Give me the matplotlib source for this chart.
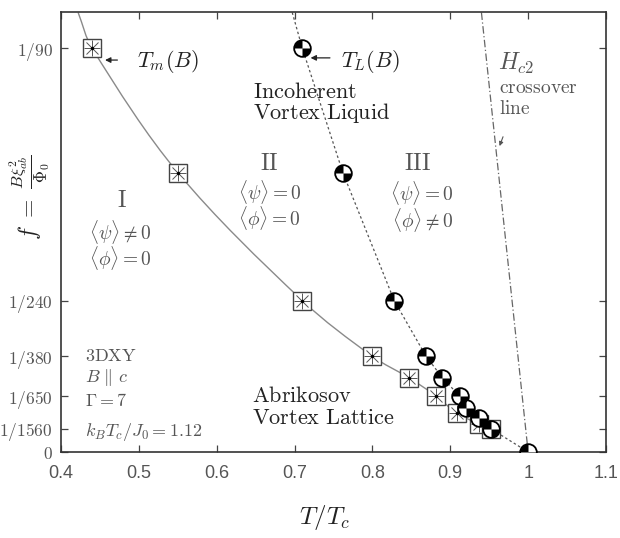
import numpy as np
import matplotlib
matplotlib.use('Agg')
import matplotlib.pyplot as plt
from matplotlib.path import Path
from matplotlib.patches import PathPatch

plt.rcParams['mathtext.fontset'] = 'cm'

# ---- data ----
# melting line T_m(B): square markers
T_m = [0.44, 0.55, 0.71, 0.80, 0.847, 0.882, 0.908, 0.937, 0.952]
f_m = [1/90, 1/130, 1/240, 1/380, 1/490, 1/650, 1/930, 1/1300, 1/1560]
# where the T_m guide curve meets the top frame
Tm_top_T = [0.422]
Tm_top_f = [0.0121]
# T_L(B): checkered circle markers
T_L = [0.71, 0.762, 0.828, 0.869, 0.89, 0.912, 0.92, 0.937, 0.952, 1.0]
f_L = [1/90, 1/130, 1/240, 1/380, 1/490, 1/650, 1/820, 1/1070, 1/1560, 0.0]
# T_L guide line starts at the top of the frame
TL_top_T = [0.697]
TL_top_f = [0.0121]
# H_c2 crossover line
Hc2_T = [0.94, 1.0]
Hc2_f = [0.0121, 0.0]

xticks = [0.4, 0.5, 0.6, 0.7, 0.8, 0.9, 1.0, 1.1]
xtick_labels = ['0.4', '0.5', '0.6', '0.7', '0.8', '0.9', '1', '1.1']
yticks = [0.0, 1/1560, 1/650, 1/380, 1/240, 1/90]
ytick_labels = ['0', '1/1560', '1/650', '1/380', '1/240', '1/90']

XLIM = (0.4, 1.1)
YLIM = (0, 0.012113)
fig = plt.figure(figsize=(6.2, 5.38), dpi=100)
ax = fig.add_axes([61/620, 86/538, 545/620, 440/538])
ax.set_xlim(*XLIM)
ax.set_ylim(*YLIM)


def smooth_path(xs, ys):
    """Chord-length Catmull-Rom curve through the points, as cubic Bezier segments."""
    sx = 545 / (XLIM[1] - XLIM[0])
    sy = 440 / (YLIM[1] - YLIM[0])
    P = np.column_stack([np.asarray(xs) * sx, np.asarray(ys) * sy])
    n = len(P)
    d = np.linalg.norm(np.diff(P, axis=0), axis=1)
    m = np.zeros_like(P)
    m[0] = (P[1] - P[0]) / d[0]
    m[-1] = (P[-1] - P[-2]) / d[-1]
    for i in range(1, n - 1):
        m[i] = (P[i + 1] - P[i - 1]) / (d[i - 1] + d[i])
    verts = [P[0]]
    codes = [Path.MOVETO]
    for i in range(n - 1):
        verts += [P[i] + m[i] * d[i] / 3, P[i + 1] - m[i + 1] * d[i] / 3, P[i + 1]]
        codes += [Path.CURVE4] * 3
    V = np.array(verts)
    V[:, 0] /= sx
    V[:, 1] /= sy
    return Path(V, codes)


# lines
ax.add_patch(PathPatch(smooth_path(Tm_top_T + T_m, Tm_top_f + f_m), fill=False,
                       edgecolor='#8a8a8a', lw=1.0, zorder=2))
ax.plot(TL_top_T + T_L, TL_top_f + f_L, color='#555555', lw=0.9, ls=(0, (2, 2)), zorder=2)
ax.plot(Hc2_T, Hc2_f, color='#666666', lw=0.9, ls=(0, (6, 2, 1, 2)), zorder=2)

# square markers with asterisk
ax.plot(T_m, f_m, ls='none', marker='s', ms=13, mfc='white', mec='#444444', mew=1.0, zorder=3)
ax.plot(T_m, f_m, ls='none', marker='x', ms=8, mec='#555555', mew=0.7, zorder=4)
ax.plot(T_m, f_m, ls='none', marker='+', ms=11, mec='#555555', mew=0.7, zorder=4)
ax.plot(T_m, f_m, ls='none', marker='o', ms=2.5, mfc='black', mec='none', zorder=4)

# checkered circles
wedges = Path.make_compound_path(Path.wedge(90, 180), Path.wedge(270, 360))
ax.plot(T_L, f_L, ls='none', marker='o', ms=12, mfc='white', mec='black', mew=1.3, zorder=5)
ax.plot(T_L, f_L, ls='none', marker=wedges, ms=12, mfc='black', mec='none', zorder=6)

# ticks
ax.set_xticks(xticks)
ax.set_xticklabels(xtick_labels, family='Liberation Sans', fontsize=13, color='#555555')
ax.set_yticks(yticks)
ax.set_yticklabels(['$' + s + '$' for s in ytick_labels], fontsize=12.5, color='#555555')
ax.tick_params(direction='in', length=5, width=0.9, color='#444444', top=True, right=True)
ax.tick_params(axis='x', pad=9)
ax.tick_params(axis='y', pad=6)
for s in ax.spines.values():
    s.set_color('#333333')
    s.set_linewidth(1.2)

# annotations
dark = '#222222'
gray = '#555555'
ax.annotate('', xy=(0.453, 0.01079), xytext=(0.476, 0.01079),
            arrowprops=dict(arrowstyle='-|>', color=dark, lw=0.9, mutation_scale=8))
ax.text(0.497, 0.01075, r'$T_m(B)$', fontsize=16, color=dark, ha='left', va='center')
ax.annotate('', xy=(0.717, 0.01085), xytext=(0.749, 0.01085),
            arrowprops=dict(arrowstyle='-|>', color=dark, lw=0.9, mutation_scale=8))
ax.text(0.76, 0.01075, r'$T_L(B)$', fontsize=16, color=dark, ha='left', va='center')

ax.text(0.646, 0.00991, r'$\mathrm{Incoherent}$', fontsize=16, color=dark, ha='left', va='center')
ax.text(0.646, 0.00933, r'$\mathrm{Vortex\ Liquid}$', fontsize=16, color=dark, ha='left', va='center')

br = 14
ax.text(0.668, 0.00796, r'$\mathrm{II}$', fontsize=17, color=gray, ha='center', va='center')
ax.text(0.668, 0.00716, r'$\langle\psi\rangle = 0$', fontsize=br, color=gray, ha='center', va='center')
ax.text(0.668, 0.00644, r'$\langle\phi\rangle = 0$', fontsize=br, color=gray, ha='center', va='center')

ax.text(0.478, 0.00694, r'$\mathrm{I}$', fontsize=17, color=gray, ha='center', va='center')
ax.text(0.476, 0.00606, r'$\langle\psi\rangle \neq 0$', fontsize=br, color=gray, ha='center', va='center')
ax.text(0.476, 0.00534, r'$\langle\phi\rangle = 0$', fontsize=br, color=gray, ha='center', va='center')

ax.text(0.858, 0.00796, r'$\mathrm{III}$', fontsize=17, color=gray, ha='center', va='center')
ax.text(0.864, 0.00713, r'$\langle\psi\rangle = 0$', fontsize=br, color=gray, ha='center', va='center')
ax.text(0.864, 0.00639, r'$\langle\phi\rangle \neq 0$', fontsize=br, color=gray, ha='center', va='center')

ax.text(0.961, 0.0107, r'$H_{c2}$', fontsize=17, color=gray, ha='left', va='center')
ax.text(0.962, 0.01003, r'$\mathrm{crossover}$', fontsize=14, color=gray, ha='left', va='center')
ax.text(0.962, 0.00947, r'$\mathrm{line}$', fontsize=14, color=gray, ha='left', va='center')
ax.annotate('', xy=(0.962, 0.00835), xytext=(0.969, 0.00875),
            arrowprops=dict(arrowstyle='-|>', color=gray, lw=0.8, mutation_scale=6))

ax.text(0.431, 0.00264, r'$\mathrm{3DXY}$', fontsize=13, color=gray, ha='left', va='center')
ax.text(0.431, 0.00204, r'$B\ \|\ c$', fontsize=13, color=gray, ha='left', va='center')
ax.text(0.431, 0.00140, r'$\Gamma = 7$', fontsize=13, color=gray, ha='left', va='center')
ax.text(0.431, 0.00055, r'$k_BT_c/J_0 = 1.12$', fontsize=13, color=gray, ha='left', va='center')

ax.text(0.645, 0.00155, r'$\mathrm{Abrikosov}$', fontsize=16, color=dark, ha='left', va='center')
ax.text(0.645, 0.00094, r'$\mathrm{Vortex\ Lattice}$', fontsize=16, color=dark, ha='left', va='center')

fig.text(30/620, 1 - 197/538, r'$f\ =\ \frac{B\xi_{ab}^2}{\Phi_0}$', rotation=90,
         fontsize=17, color=dark, ha='center', va='center')
fig.text(325/620, 1 - 517/538, r'$T/T_c$', fontsize=18, color=dark, ha='center', va='center')

fig.savefig('out.png', dpi=100)
